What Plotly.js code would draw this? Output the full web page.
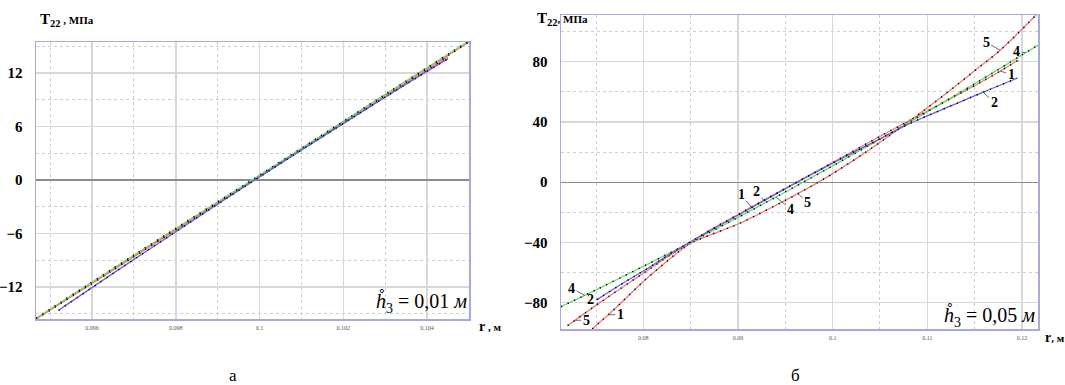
<!DOCTYPE html>
<html>
<head>
<meta charset="utf-8">
<script src="https://cdn.plot.ly/plotly-3.0.1.min.js"></script>
<style>html,body{margin:0;padding:0;background:#fff}#chart{width:1065px;height:385px}</style>
</head>
<body>
<div id="chart"></div>
<script>
// ---- Panel а (h3 = 0.01 м) ----
const a_x1 = [0.09466, 0.097, 0.1, 0.103, 0.105];
const a_y1 = [-15.58, -8.55, 0.45, 9.45, 15.47];
const a_x2 = [0.0952, 0.097, 0.1, 0.103, 0.1045];
const a_y2 = [-14.6, -8.9, 0.35, 9.3, 13.6];
const a_x4 = [0.09466, 0.097, 0.1, 0.103, 0.105];
const a_y4 = [-15.5, -8.4, 0.55, 9.6, 15.6];
const a_x5 = [0.09466, 0.097, 0.1, 0.103, 0.1045];
const a_y5 = [-15.58, -8.6, 0.4, 9.3, 13.8];

// ---- Panel б (h3 = 0.05 м) ----
const b_x1 = [0.0746, 0.0754, 0.077, 0.08, 0.0825, 0.0844, 0.087, 0.09, 0.093, 0.0962, 0.1, 0.104, 0.108, 0.112, 0.116, 0.1196];
const b_y1 = [-97.5, -93, -84, -66, -52.5, -43, -32, -21.5, -11, 0, 13, 27, 40.5, 54, 67.5, 81];
const b_x2 = [0.0751, 0.078, 0.08, 0.0825, 0.0844, 0.087, 0.09, 0.093, 0.0962, 0.1, 0.103, 0.106, 0.108, 0.11, 0.113, 0.116, 0.1195];
const b_y2 = [-78, -66.5, -59, -49, -41.7, -32.3, -22, -11.4, -0.2, 12.6, 22.4, 32, 38.5, 44, 52, 60, 69];
const b_x4 = [0.0713, 0.075, 0.08, 0.085, 0.09, 0.095, 0.1, 0.105, 0.11, 0.115, 0.12, 0.1217];
const b_y4 = [-82.7, -71.5, -55.9, -39.9, -23.4, -6.5, 10.8, 28.6, 46.7, 65.3, 84.4, 91];
const b_x5 = [0.072, 0.0754, 0.08, 0.0844, 0.087, 0.09, 0.0935, 0.0985, 0.103, 0.108, 0.1115, 0.115, 0.1177, 0.1215];
const b_y5 = [-95.3, -80, -60.5, -42.3, -35.2, -27.8, -17, 0, 17.8, 40, 56.5, 74, 87.6, 111];

const curveNames = ['1', '2', '4', '5'];
const curveColors = ['#f27a7a', '#6464dc', '#6fd86f', '#f27a7a'];

const serif = 'Liberation Serif, Times New Roman, serif';

function curve(x, y, color, xa, ya) {
  return [
    {x: x, y: y, xaxis: xa, yaxis: ya, mode: 'lines', line: {color: color, width: 1.3, shape: 'spline'}, hoverinfo: 'skip'},
    {x: x, y: y, xaxis: xa, yaxis: ya, mode: 'lines', line: {color: '#000', width: 1.5, dash: '1.2px,6px', shape: 'spline'}, hoverinfo: 'skip'}
  ];
}

const data = [].concat(
  curve(a_x1, a_y1, curveColors[0], 'x', 'y'),
  curve(a_x5, a_y5, curveColors[3], 'x', 'y'),
  curve(a_x4, a_y4, curveColors[2], 'x', 'y'),
  curve(a_x2, a_y2, curveColors[1], 'x', 'y'),
  curve(b_x1, b_y1, curveColors[0], 'x2', 'y2'),
  curve(b_x5, b_y5, curveColors[3], 'x2', 'y2'),
  curve(b_x4, b_y4, curveColors[2], 'x2', 'y2'),
  curve(b_x2, b_y2, curveColors[1], 'x2', 'y2')
);

const gridMajor = '#d8d8d8';
const gridMinor = '#cfcfcf';
const frame = '#a9a9dc';

function xax(domain, range, dtick, minor) {
  return {
    domain: domain, range: range, dtick: dtick, tick0: 0,
    showgrid: true, gridcolor: gridMajor, gridwidth: 1.5,
    minor: {dtick: minor, tick0: 0, showgrid: true, gridcolor: gridMinor, griddash: 'dot', gridwidth: 1},
    showline: true, mirror: true, linecolor: frame, linewidth: 1.5,
    zeroline: false, ticks: '', ticklabelstandoff: 2,
    tickfont: {family: serif, size: 6, color: '#555'}
  };
}
function yax(domain, range, dtick, minor, anchor) {
  return {
    domain: domain, range: range, dtick: dtick, tick0: 0, anchor: anchor,
    showgrid: true, gridcolor: gridMajor, gridwidth: 1.5,
    minor: {dtick: minor, tick0: 0, showgrid: true, gridcolor: gridMinor, griddash: 'dot', gridwidth: 1},
    showline: true, mirror: true, linecolor: frame, linewidth: 1.5,
    zeroline: true, zerolinecolor: '#8c8c8c', zerolinewidth: 1.2,
    ticks: '', ticklabelstandoff: 9,
    tickfont: {family: serif, size: 15, color: '#000', weight: 'bold'}
  };
}

function lbl(text, x, y, ax, ay) {
  return {xref: 'x2', yref: 'y2', x: x, y: y, text: text, showarrow: true, arrowhead: 0,
    arrowwidth: 0.8, arrowcolor: '#444', ax: ax, ay: ay, standoff: 0,
    font: {family: serif, size: 14, color: '#000', weight: 'bold'}};
}
function paperText(text, x, y, size, bold, xanchor) {
  return {xref: 'paper', yref: 'paper', x: x, y: y, text: text, showarrow: false,
    xanchor: xanchor || 'center', yanchor: 'middle',
    font: {family: serif, size: size, color: '#000', weight: bold ? 'bold' : 'normal'}};
}

const annotations = [
  paperText('T<sub>22</sub><span style="font-size:11px"> , МПа</span>', 38 / 1065, 1 - 20 / 385, 15, true, 'left'),
  paperText('T<sub>22</sub><span style="font-size:11px">, МПа</span>', 535 / 1065, 1 - 19 / 385, 15, true, 'left'),
  paperText('r<span style="font-size:11px"> , м</span>', 477 / 1065, 1 - 326 / 385, 14, true, 'left'),
  paperText('r<span style="font-size:11px">, м</span>', 1043 / 1065, 1 - 337 / 385, 14, true, 'left'),
  paperText('<i>h&#778;</i><sub>3</sub> = 0,01 <i>м</i>', 421 / 1065, 1 - 302 / 385, 20, false),
  paperText('<i>h&#778;</i><sub>3</sub> = 0,05 <i>м</i>', 989 / 1065, 1 - 316 / 385, 20, false),
  paperText('а', 233 / 1065, 1 - 375 / 385, 17, false),
  paperText('б', 795 / 1065, 1 - 375 / 385, 17, false),
  // curve labels, right panel
  lbl('5', 0.1177, 87.6, -14, -8),
  lbl('4', 0.1204, 86, -9, -1),
  lbl('1', 0.1177, 73.9, 11, 4),
  lbl('2', 0.1159, 59.7, 11, 10),
  lbl('4', 0.0738, -75.1, -13, -7),
  lbl('2', 0.0751, -78, -6, 0),
  lbl('5', 0.0728, -91.7, 11, 0),
  lbl('1', 0.0763, -88, 12, 0),
  lbl('1', 0.0914, -16.6, -10, -13),
  lbl('2', 0.0928, -12.5, -8, -9),
  lbl('4', 0.094, -9.9, 15, 12),
  lbl('5', 0.0963, -7.5, 10, 9)
];

const layout = {
  width: 1065, height: 385,
  margin: {l: 0, r: 0, t: 0, b: 0},
  paper_bgcolor: '#fff', plot_bgcolor: '#fff',
  showlegend: false,
  xaxis: xax([36 / 1065, 469 / 1065], [0.09466, 0.105], 0.002, 0.001),
  yaxis: yax([1 - 319 / 385, 1 - 42 / 385], [-15.58, 15.47], 6, 3, 'x'),
  xaxis2: Object.assign(xax([561 / 1065, 1038 / 1065], [0.0713, 0.1217], 0.01, 0.005), {anchor: 'y2'}),
  yaxis2: yax([1 - 329 / 385, 1 - 15 / 385], [-97.5, 111], 40, 20, 'x2'),
  annotations: annotations
};
layout.xaxis.anchor = 'y';

Plotly.newPlot('chart', data, layout, {staticPlot: true, displayModeBar: false});
</script>
</body>
</html>
